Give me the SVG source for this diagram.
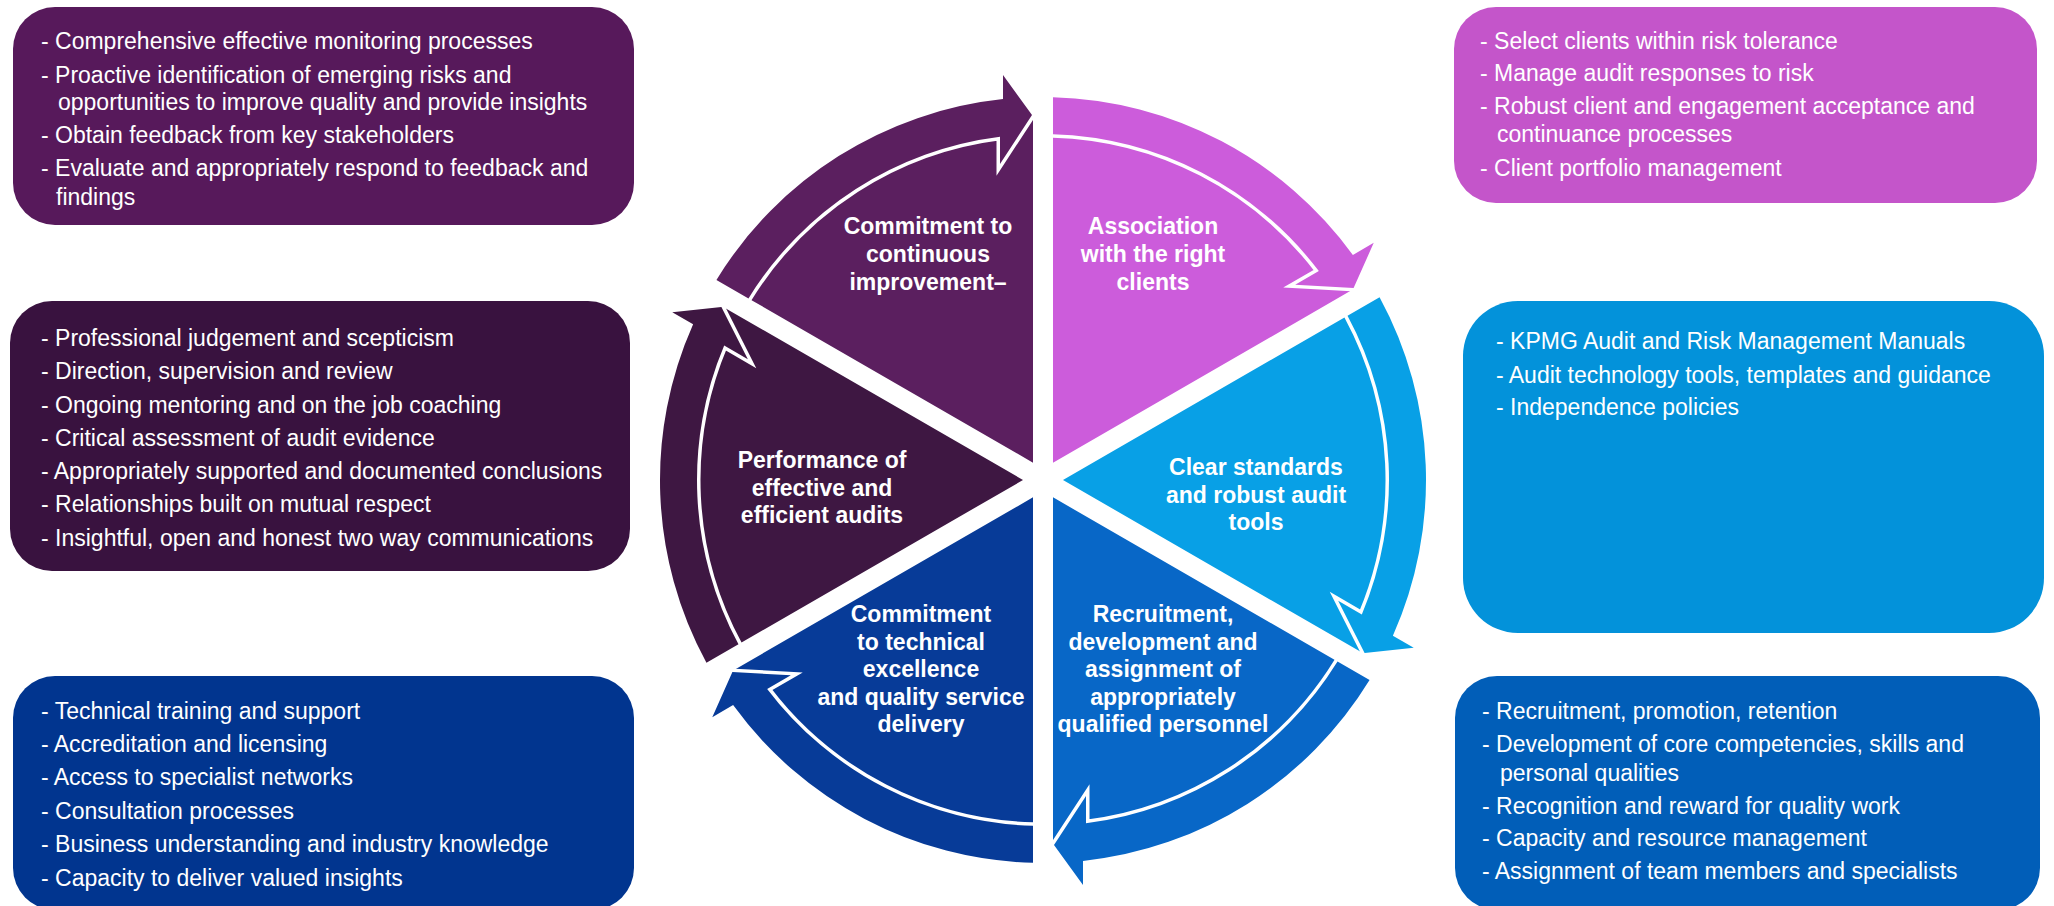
<svg xmlns="http://www.w3.org/2000/svg" width="2054" height="906" viewBox="0 0 2054 906">
<defs>
<style>
.box text{font-family:"Liberation Sans",Arial,sans-serif;font-size:23px;fill:#fff}
.lbl{font-family:"Liberation Sans",Arial,sans-serif;font-size:23px;font-weight:bold;fill:#fff;text-anchor:middle}
.band{stroke:#fff;stroke-width:7;paint-order:stroke;stroke-linejoin:miter}
</style>
<path id="wedge" d="M-10,-17.32 L-292.78,-180.59 A344,344 0 0 1 -43,-341.30 L-10,-366 Z"/>
<path id="arrow" d="M-326.57,-200.09 A383,383 0 0 1 -40,-380.91 L-40,-405 L-11,-365 L-43,-316 L-43,-343.32 A346,346 0 0 0 -294.52,-181.59 Z"/>
</defs>
<rect width="2054" height="906" fill="#fff"/>

<g id="wheel" transform="translate(1043,480)">
  <g id="sector-improvement"><use href="#wedge" fill="#5B1F5F"/></g>
  <g id="sector-clients" transform="rotate(60)"><use href="#wedge" fill="#CC5CDB"/></g>
  <g id="sector-standards" transform="rotate(120)"><use href="#wedge" fill="#08A0E6"/></g>
  <g id="sector-recruitment" transform="rotate(180)"><use href="#wedge" fill="#0867C7"/></g>
  <g id="sector-technical" transform="rotate(240)"><use href="#wedge" fill="#073B98"/></g>
  <g id="sector-performance" transform="rotate(300)"><use href="#wedge" fill="#3E1742"/></g>
</g>

<g id="connectors" transform="translate(1043,480)">
  <use href="#arrow" class="band" fill="#5B1F5F"/>
  <use href="#arrow" class="band" fill="#CC5CDB" transform="rotate(60)"/>
  <use href="#arrow" class="band" fill="#08A0E6" transform="rotate(120)"/>
  <use href="#arrow" class="band" fill="#0867C7" transform="rotate(180)"/>
  <use href="#arrow" class="band" fill="#073B98" transform="rotate(240)"/>
  <use href="#arrow" class="band" fill="#3E1742" transform="rotate(300)"/>
</g>

<g id="labels">
  <g id="label-improvement" class="lbl"><text x="928" y="234">Commitment to</text><text x="928" y="262">continuous</text><text x="928" y="290">improvement–</text></g>
  <g id="label-clients" class="lbl"><text x="1153" y="234">Association</text><text x="1153" y="262">with the right</text><text x="1153" y="290">clients</text></g>
  <g id="label-standards" class="lbl"><text x="1256" y="475">Clear standards</text><text x="1256" y="503">and robust audit</text><text x="1256" y="530">tools</text></g>
  <g id="label-recruitment" class="lbl"><text x="1163" y="622">Recruitment,</text><text x="1163" y="650">development and</text><text x="1163" y="677">assignment of</text><text x="1163" y="705">appropriately</text><text x="1163" y="732">qualified personnel</text></g>
  <g id="label-technical" class="lbl"><text x="921" y="622">Commitment</text><text x="921" y="650">to technical</text><text x="921" y="677">excellence</text><text x="921" y="705">and quality service</text><text x="921" y="732">delivery</text></g>
  <g id="label-performance" class="lbl"><text x="822" y="468">Performance of</text><text x="822" y="496">effective and</text><text x="822" y="523">efficient audits</text></g>
</g>

<g id="box-improvement" class="box">
  <rect x="13" y="7" width="621" height="218" rx="42" fill="#57195B"/>
  <text x="41" y="49">- Comprehensive effective monitoring processes</text>
  <text x="41" y="83">- Proactive identification of emerging risks and</text>
  <text x="58" y="110">opportunities to improve quality and provide insights</text>
  <text x="41" y="143">- Obtain feedback from key stakeholders</text>
  <text x="41" y="176">- Evaluate and appropriately respond to feedback and</text>
  <text x="56" y="205">findings</text>
</g>

<g id="box-performance" class="box">
  <rect x="10" y="301" width="620" height="270" rx="42" fill="#39123F"/>
  <text x="41" y="346">- Professional judgement and scepticism</text>
  <text x="41" y="379">- Direction, supervision and review</text>
  <text x="41" y="413">- Ongoing mentoring and on the job coaching</text>
  <text x="41" y="446">- Critical assessment of audit evidence</text>
  <text x="41" y="479">- Appropriately supported and documented conclusions</text>
  <text x="41" y="512">- Relationships built on mutual respect</text>
  <text x="41" y="546">- Insightful, open and honest two way communications</text>
</g>

<g id="box-technical" class="box">
  <rect x="13" y="676" width="621" height="234" rx="42" fill="#01358F"/>
  <text x="41" y="719">- Technical training and support</text>
  <text x="41" y="752">- Accreditation and licensing</text>
  <text x="41" y="785">- Access to specialist networks</text>
  <text x="41" y="819">- Consultation processes</text>
  <text x="41" y="852">- Business understanding and industry knowledge</text>
  <text x="41" y="886">- Capacity to deliver valued insights</text>
</g>

<g id="box-clients" class="box">
  <rect x="1454" y="7" width="583" height="196" rx="42" fill="#C455CA"/>
  <text x="1480" y="49">- Select clients within risk tolerance</text>
  <text x="1480" y="81">- Manage audit responses to risk</text>
  <text x="1480" y="114">- Robust client and engagement acceptance and</text>
  <text x="1497" y="142">continuance processes</text>
  <text x="1480" y="176">- Client portfolio management</text>
</g>

<g id="box-standards" class="box">
  <rect x="1463" y="301" width="581" height="332" rx="55" fill="#0392DA"/>
  <text x="1496" y="349">- KPMG Audit and Risk Management Manuals</text>
  <text x="1496" y="383">- Audit technology tools, templates and guidance</text>
  <text x="1496" y="415">- Independence policies</text>
</g>

<g id="box-recruitment" class="box">
  <rect x="1455" y="676" width="585" height="234" rx="42" fill="#015EB8"/>
  <text x="1482" y="719">- Recruitment, promotion, retention</text>
  <text x="1482" y="752">- Development of core competencies, skills and</text>
  <text x="1500" y="781">personal qualities</text>
  <text x="1482" y="814">- Recognition and reward for quality work</text>
  <text x="1482" y="846">- Capacity and resource management</text>
  <text x="1482" y="879">- Assignment of team members and specialists</text>
</g>
</svg>
